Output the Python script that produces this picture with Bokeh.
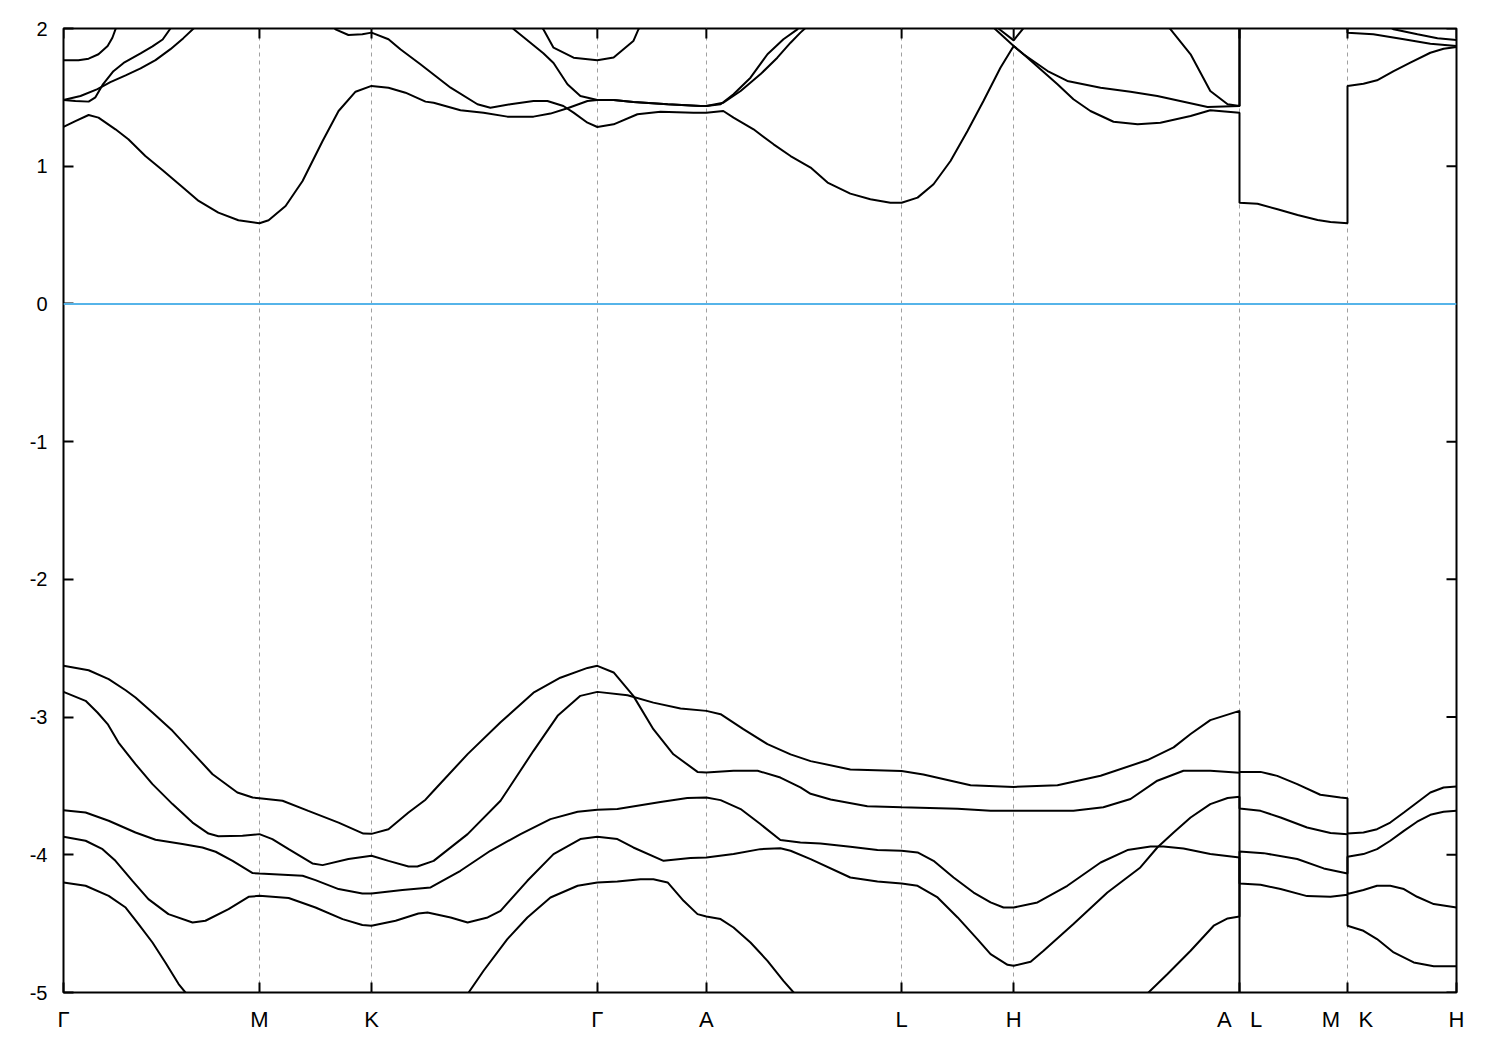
from bokeh.plotting import figure
from bokeh.models import Range1d, FixedTicker, Span, ColumnDataSource
from bokeh.embed import file_html
from bokeh.resources import INLINE

# ---------------- data ----------------
NB = "\u00a0"
KPOINT_LABELS = ["Γ", "M", "K", "Γ", "A", "L", "H", "A" + NB * 3 + "L", "M" + NB * 3 + "K", "H"]
KPOINT_POS = [0.0, 0.577, 0.907, 1.572, 1.893, 2.468, 2.798, 3.463, 3.781, 4.102]
E_TICKS = [-5, -4, -3, -2, -1, 0, 1, 2]
E_TICK_LABELS = ["-5", "-4", "-3", "-2", "-1", "0", "1", "2"]
E_MIN, E_MAX = -5.0, 2.0
E_FERMI = 0.0

# valence bands: [k, E(eV)]
VB1 = [[0, -2.628], [0.074, -2.660], [0.133, -2.725], [0.183, -2.805], [0.212, -2.858], [0.262, -2.967],
       [0.321, -3.100], [0.380, -3.258], [0.439, -3.415], [0.512, -3.548], [0.557, -3.584], [0.577, -3.589],
       [0.645, -3.608], [0.721, -3.681], [0.810, -3.766], [0.883, -3.846], [0.907, -3.848], [0.957, -3.814],
       [1.016, -3.693], [1.066, -3.600], [1.090, -3.535], [1.190, -3.269], [1.287, -3.038], [1.384, -2.823],
       [1.463, -2.714], [1.543, -2.643], [1.572, -2.628], [1.620, -2.676], [1.678, -2.846], [1.737, -3.088],
       [1.796, -3.270], [1.867, -3.398], [1.893, -3.403], [1.973, -3.390], [2.044, -3.390], [2.111, -3.439],
       [2.170, -3.511], [2.200, -3.557], [2.259, -3.598], [2.367, -3.647], [2.468, -3.655], [2.633, -3.666],
       [2.730, -3.681], [2.798, -3.681], [2.974, -3.681], [3.062, -3.655], [3.142, -3.595], [3.221, -3.462],
       [3.298, -3.390], [3.377, -3.390], [3.463, -3.405],
       [3.463, -3.664], [3.525, -3.681], [3.584, -3.729], [3.662, -3.802], [3.731, -3.842], [3.781, -3.850],
       [3.781, -4.285], [3.828, -4.256], [3.868, -4.225], [3.907, -4.225], [3.947, -4.249], [3.986, -4.305],
       [4.035, -4.358], [4.102, -4.383]]
VB2 = [[0, -2.817], [0.065, -2.882], [0.100, -2.967], [0.130, -3.051], [0.162, -3.185], [0.212, -3.342],
       [0.262, -3.487], [0.321, -3.632], [0.380, -3.766], [0.427, -3.846], [0.456, -3.865], [0.527, -3.862],
       [0.577, -3.850], [0.615, -3.886], [0.663, -3.959], [0.733, -4.063], [0.763, -4.075], [0.839, -4.031],
       [0.907, -4.007], [0.957, -4.044], [1.016, -4.085], [1.042, -4.085], [1.090, -4.044], [1.190, -3.850],
       [1.287, -3.608], [1.384, -3.245], [1.455, -2.991], [1.522, -2.846], [1.572, -2.817], [1.661, -2.841],
       [1.737, -2.895], [1.817, -2.938], [1.893, -2.955], [1.935, -2.979], [2.002, -3.088], [2.073, -3.197],
       [2.141, -3.271], [2.200, -3.320], [2.317, -3.380], [2.468, -3.392], [2.532, -3.417], [2.671, -3.495],
       [2.798, -3.507], [2.927, -3.495], [3.054, -3.426], [3.192, -3.312], [3.269, -3.220], [3.319, -3.123],
       [3.377, -3.022], [3.463, -2.955],
       [3.463, -3.398], [3.525, -3.398], [3.574, -3.427], [3.633, -3.487], [3.701, -3.564], [3.760, -3.584],
       [3.781, -3.589],
       [3.781, -3.846], [3.828, -3.838], [3.868, -3.814], [3.907, -3.766], [3.947, -3.693], [3.986, -3.620],
       [4.025, -3.548], [4.064, -3.511], [4.102, -3.504]]
VB3 = [[0, -3.676], [0.065, -3.693], [0.133, -3.753], [0.212, -3.838], [0.271, -3.891], [0.350, -3.922],
       [0.409, -3.947], [0.448, -3.978], [0.498, -4.044], [0.557, -4.133], [0.577, -4.136], [0.704, -4.152],
       [0.742, -4.184], [0.810, -4.249], [0.880, -4.281], [0.907, -4.281], [0.998, -4.256], [1.081, -4.237],
       [1.169, -4.116], [1.257, -3.971], [1.346, -3.850], [1.434, -3.741], [1.514, -3.688], [1.572, -3.673],
       [1.631, -3.668], [1.758, -3.617], [1.837, -3.588], [1.893, -3.584], [1.935, -3.603], [1.994, -3.668],
       [2.052, -3.777], [2.111, -3.893], [2.170, -3.911], [2.229, -3.918], [2.317, -3.942], [2.397, -3.966],
       [2.468, -3.971], [2.515, -3.983], [2.562, -4.044], [2.621, -4.165], [2.680, -4.274], [2.730, -4.346],
       [2.768, -4.383], [2.798, -4.383], [2.868, -4.346], [2.956, -4.225], [3.054, -4.056], [3.133, -3.966],
       [3.201, -3.940], [3.239, -3.940], [3.298, -3.954], [3.377, -3.995], [3.463, -4.020],
       [3.463, -5.40], [3.781, -5.50], [4.102, -5.60]]
VB4 = [[0, -3.869], [0.065, -3.898], [0.115, -3.959], [0.153, -4.044], [0.203, -4.189], [0.250, -4.322],
       [0.309, -4.431], [0.380, -4.492], [0.418, -4.479], [0.486, -4.394], [0.545, -4.305], [0.577, -4.298],
       [0.663, -4.314], [0.742, -4.383], [0.822, -4.467], [0.880, -4.510], [0.907, -4.515], [0.978, -4.479],
       [1.045, -4.426], [1.072, -4.419], [1.140, -4.455], [1.190, -4.492], [1.249, -4.455], [1.287, -4.407],
       [1.366, -4.189], [1.443, -3.995], [1.522, -3.886], [1.572, -3.869], [1.631, -3.886], [1.678, -3.947],
       [1.767, -4.044], [1.846, -4.024], [1.893, -4.020], [1.973, -3.995], [2.052, -3.959], [2.111, -3.952],
       [2.141, -3.971], [2.200, -4.031], [2.317, -4.165], [2.397, -4.194], [2.468, -4.208], [2.515, -4.225],
       [2.574, -4.310], [2.633, -4.455], [2.691, -4.612], [2.730, -4.721], [2.780, -4.799], [2.798, -4.806],
       [2.848, -4.777], [2.886, -4.697], [2.974, -4.503], [3.074, -4.274], [3.171, -4.092], [3.221, -3.947],
       [3.269, -3.838], [3.319, -3.729], [3.377, -3.632], [3.428, -3.588], [3.463, -3.579],
       [3.463, -4.208], [3.525, -4.218], [3.584, -4.249], [3.662, -4.300], [3.731, -4.305], [3.781, -4.290],
       [3.781, -4.515], [3.828, -4.552], [3.868, -4.612], [3.917, -4.709], [3.976, -4.782], [4.035, -4.810],
       [4.102, -4.810]]
VB5 = [[0, -4.201], [0.065, -4.225], [0.133, -4.298], [0.183, -4.383], [0.221, -4.503], [0.262, -4.637],
       [0.300, -4.782], [0.339, -4.939], [0.359, -5.000], [0.433, -5.30], [0.577, -5.60], [0.907, -5.80],
       [1.081, -5.50], [1.193, -5.000], [1.237, -4.842], [1.307, -4.612], [1.366, -4.455], [1.434, -4.310],
       [1.514, -4.225], [1.572, -4.201], [1.631, -4.194], [1.699, -4.177], [1.737, -4.177], [1.779, -4.201],
       [1.826, -4.334], [1.867, -4.431], [1.893, -4.448], [1.935, -4.467], [1.973, -4.528], [2.023, -4.637],
       [2.073, -4.770], [2.120, -4.915], [2.150, -5.000], [2.259, -5.40], [2.468, -5.70], [2.798, -5.90],
       [3.054, -5.40], [3.195, -5.000], [3.251, -4.866], [3.319, -4.697], [3.387, -4.515], [3.428, -4.462],
       [3.463, -4.448],
       [3.463, -3.976], [3.534, -3.988], [3.633, -4.031], [3.711, -4.099], [3.781, -4.136],
       [3.781, -4.015], [3.828, -3.995], [3.868, -3.959], [3.907, -3.898], [3.947, -3.826], [3.986, -3.760],
       [4.025, -3.710], [4.064, -3.688], [4.102, -3.681]]

# conduction bands: [k, E(eV)]
CB1 = [[0, 1.285], [0.035, 1.328], [0.074, 1.372], [0.103, 1.353], [0.153, 1.268], [0.191, 1.196],
       [0.241, 1.074], [0.292, 0.970], [0.350, 0.849], [0.398, 0.748], [0.456, 0.663], [0.515, 0.608],
       [0.577, 0.586], [0.604, 0.608], [0.654, 0.711], [0.704, 0.893], [0.763, 1.183], [0.810, 1.401],
       [0.860, 1.541], [0.907, 1.583], [0.957, 1.570], [1.007, 1.534], [1.066, 1.469], [1.090, 1.461],
       [1.169, 1.406], [1.237, 1.389], [1.307, 1.360], [1.384, 1.360], [1.434, 1.382], [1.484, 1.421],
       [1.543, 1.474], [1.572, 1.481], [1.620, 1.481], [1.678, 1.466], [1.779, 1.450], [1.876, 1.437],
       [1.893, 1.437], [1.935, 1.450], [1.973, 1.522], [2.023, 1.643], [2.073, 1.813], [2.120, 1.922],
       [2.161, 1.994], [2.259, 2.30], [2.468, 2.60], [2.641, 2.30], [2.744, 1.994], [2.798, 1.873],
       [2.827, 1.813], [2.898, 1.691], [2.956, 1.619], [3.054, 1.570], [3.142, 1.541], [3.221, 1.510],
       [3.369, 1.430], [3.463, 1.437],
       [3.463, 2.40], [3.781, 2.30],
       [3.781, 1.970], [3.857, 1.958], [3.947, 1.922], [4.025, 1.890], [4.102, 1.873]]
CB2 = [[0, 1.481], [0.035, 1.474], [0.074, 1.469], [0.094, 1.500], [0.115, 1.590], [0.147, 1.690],
       [0.177, 1.750], [0.227, 1.820], [0.262, 1.870], [0.292, 1.920], [0.315, 2.000], [0.403, 2.30],
       [0.577, 2.50], [0.727, 2.20], [0.801, 1.994], [0.839, 1.953], [0.880, 1.958], [0.907, 1.970],
       [0.957, 1.922], [0.992, 1.849], [1.051, 1.740], [1.140, 1.570], [1.219, 1.450], [1.257, 1.425],
       [1.316, 1.450], [1.384, 1.474], [1.425, 1.474], [1.472, 1.437], [1.502, 1.389], [1.543, 1.316],
       [1.572, 1.285], [1.620, 1.304], [1.690, 1.377], [1.758, 1.396], [1.855, 1.389], [1.893, 1.389],
       [1.943, 1.401], [1.973, 1.353], [2.032, 1.268], [2.091, 1.159], [2.141, 1.074], [2.200, 0.990],
       [2.250, 0.881], [2.317, 0.801], [2.376, 0.760], [2.435, 0.735], [2.468, 0.735], [2.515, 0.772],
       [2.562, 0.869], [2.612, 1.038], [2.662, 1.256], [2.709, 1.474], [2.759, 1.715], [2.798, 1.873],
       [2.827, 1.813], [2.927, 1.595], [2.974, 1.486], [3.024, 1.401], [3.092, 1.323], [3.163, 1.305],
       [3.230, 1.316], [3.319, 1.365], [3.377, 1.406], [3.463, 1.389],
       [3.463, 0.735], [3.516, 0.728], [3.575, 0.687], [3.634, 0.646], [3.693, 0.610], [3.731, 0.595],
       [3.781, 0.586],
       [3.781, 1.583], [3.828, 1.599], [3.868, 1.624], [3.917, 1.691], [3.966, 1.752], [4.025, 1.824],
       [4.064, 1.853], [4.102, 1.866]]
CB3 = [[0, 1.481], [0.050, 1.510], [0.100, 1.560], [0.138, 1.610], [0.183, 1.660], [0.227, 1.710],
       [0.271, 1.770], [0.315, 1.850], [0.353, 1.930], [0.383, 2.000], [0.577, 2.50], [0.907, 2.60],
       [1.228, 2.30], [1.326, 1.994], [1.413, 1.820], [1.443, 1.750], [1.484, 1.595], [1.522, 1.510],
       [1.572, 1.481], [1.620, 1.481], [1.678, 1.466], [1.779, 1.450], [1.876, 1.437], [1.893, 1.437],
       [1.943, 1.461], [1.994, 1.546], [2.052, 1.667], [2.102, 1.788], [2.141, 1.897], [2.170, 1.970],
       [2.317, 2.30], [2.468, 2.50], [2.641, 2.30], [2.756, 1.994], [2.798, 1.914], [2.824, 1.994],
       [2.936, 2.30], [3.112, 2.30], [3.260, 1.994], [3.319, 1.813], [3.377, 1.546], [3.428, 1.450],
       [3.463, 1.437],
       [3.463, 2.40], [3.781, 2.40], [3.781, 2.20], [3.917, 1.994], [3.987, 1.958], [4.046, 1.929],
       [4.102, 1.917]]
CB4 = [[0, 1.769], [0.044, 1.769], [0.074, 1.781], [0.103, 1.813], [0.130, 1.873], [0.144, 1.933],
       [0.153, 1.994], [0.227, 2.40], [0.577, 2.80], [0.907, 2.90], [1.287, 2.40], [1.413, 1.994],
       [1.443, 1.861], [1.502, 1.788], [1.572, 1.769], [1.620, 1.790], [1.678, 1.909], [1.693, 1.994],
       [1.817, 2.40], [1.893, 2.50]]

BANDS = [VB1, VB2, VB3, VB4, VB5, CB1, CB2, CB3, CB4]

# ---------------- figure ----------------
FONT = "Liberation Sans"
FRAME_W, FRAME_H = 1393, 964
TICK_PX = 10

p = figure(frame_width=FRAME_W, frame_height=FRAME_H,
           x_range=Range1d(KPOINT_POS[0], KPOINT_POS[-1]), y_range=Range1d(E_MIN, E_MAX),
           output_backend="svg", toolbar_location=None,
           min_border_left=63, min_border_top=28, min_border_right=28, min_border_bottom=50)
p.background_fill_color = "white"
p.border_fill_color = "white"
p.outline_line_color = "black"
p.outline_line_width = 2


def style_axis(ax, font_size, standoff):
    ax.axis_line_color = None
    ax.major_tick_in = TICK_PX
    ax.major_tick_out = 0
    ax.major_tick_line_width = 2
    ax.major_tick_line_color = "black"
    ax.minor_tick_line_color = None
    ax.major_label_text_font = FONT
    ax.major_label_text_font_size = font_size
    ax.major_label_text_color = "black"
    ax.major_label_standoff = standoff


xax = p.xaxis[0]
xax.ticker = FixedTicker(ticks=KPOINT_POS)
xax.major_label_overrides = {k: lab for k, lab in zip(KPOINT_POS, KPOINT_LABELS)}
style_axis(xax, "22px", 14)

yax = p.yaxis[0]
yax.ticker = FixedTicker(ticks=E_TICKS)
yax.major_label_overrides = {e: lab for e, lab in zip(E_TICKS, E_TICK_LABELS)}
style_axis(yax, "20px", 16)

# mirrored inward ticks on the top and right edges of the frame
x_span = KPOINT_POS[-1] - KPOINT_POS[0]
y_span = E_MAX - E_MIN
dy_tick = TICK_PX * y_span / FRAME_H
dx_tick = TICK_PX * x_span / FRAME_W
p.segment(x0=KPOINT_POS, y0=[E_MAX] * len(KPOINT_POS), x1=KPOINT_POS, y1=[E_MAX - dy_tick] * len(KPOINT_POS),
          line_color="black", line_width=2)
p.segment(x0=[KPOINT_POS[-1]] * len(E_TICKS), y0=E_TICKS, x1=[KPOINT_POS[-1] - dx_tick] * len(E_TICKS), y1=E_TICKS,
          line_color="black", line_width=2)

p.ygrid.grid_line_color = None
p.xgrid.ticker = FixedTicker(ticks=KPOINT_POS[1:-1])
p.xgrid.grid_line_color = "#a0a0a0"
p.xgrid.grid_line_width = 1
p.xgrid.grid_line_dash = "4 4"

p.add_layout(Span(location=E_FERMI, dimension="width", line_color="#56b4e9", line_width=2))

for band in BANDS:
    src = ColumnDataSource(data=dict(k=[pt[0] for pt in band], e=[pt[1] for pt in band]))
    p.line("k", "e", source=src, line_color="black", line_width=2)

open("out.html", "w").write(file_html(p, INLINE))
